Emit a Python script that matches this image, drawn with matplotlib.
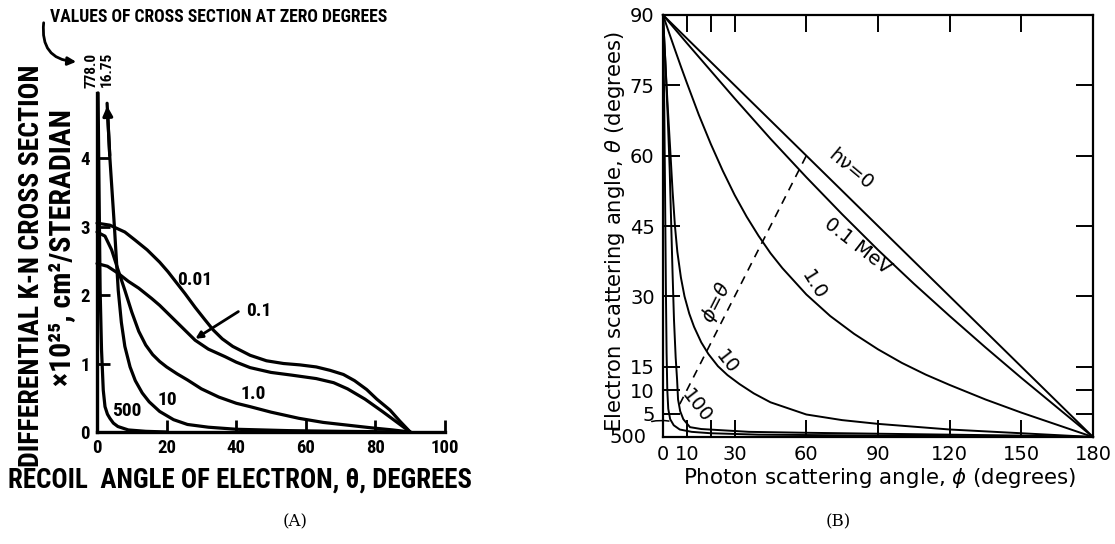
import matplotlib
matplotlib.use("Agg")
import matplotlib.pyplot as plt
from matplotlib import font_manager
from matplotlib.patches import FancyArrowPatch

W, H = 1115, 544

# ---------------- Panel A : differential K-N cross section ----------------
a_angle_001 = [0, 3.7, 8, 11, 14.4, 18, 20.4, 23, 25.3, 28.2, 31, 33.4, 36, 39, 44, 48.7, 53.6, 58.3, 63, 67, 70.8, 74, 77.5, 80.4, 84.2, 87, 90]
a_sigma_001 = [3.05, 3.02, 2.92, 2.8, 2.66, 2.48, 2.34, 2.17, 2.02, 1.82, 1.64, 1.49, 1.36, 1.25, 1.12, 1.04, 1.0, 0.98, 0.95, 0.9, 0.84, 0.75, 0.62, 0.48, 0.32, 0.16, 0]

a_angle_01 = [0, 3, 6, 9, 12, 15.7, 18, 21.4, 25, 28.2, 32, 36.8, 40, 44, 50, 56, 63, 68, 72, 77, 82, 86, 90]
a_sigma_01 = [2.46, 2.42, 2.32, 2.2, 2.1, 1.95, 1.85, 1.68, 1.5, 1.34, 1.21, 1.1, 1.02, 0.94, 0.87, 0.83, 0.78, 0.72, 0.63, 0.48, 0.3, 0.15, 0]

a_angle_1 = [0, 2.3, 4.2, 6.1, 8, 10, 12, 14, 16, 18, 20, 23, 26, 30, 35, 40, 44, 50, 58, 65, 72, 79, 85, 90]
a_sigma_1 = [2.92, 2.86, 2.66, 2.36, 2.07, 1.75, 1.47, 1.27, 1.13, 1.03, 0.95, 0.85, 0.76, 0.63, 0.51, 0.42, 0.37, 0.29, 0.2, 0.14, 0.1, 0.06, 0.03, 0]

a_angle_10 = [2.9, 3.7, 5.0, 6.1, 7.0, 8.0, 9.5, 11, 13, 15, 18, 22, 26, 32, 40, 55, 70, 90]
a_sigma_10 = [4.8, 4.0, 3.0, 2.07, 1.6, 1.25, 0.95, 0.75, 0.57, 0.44, 0.3, 0.18, 0.11, 0.07, 0.04, 0.02, 0.01, 0]

a_angle_500 = [0.3, 0.6, 0.9, 1.3, 1.8, 2.3, 3.0, 3.7, 4.7, 6, 9, 14, 20]
a_sigma_500 = [4.95, 3.5, 2.07, 1.2, 0.61, 0.37, 0.26, 0.2, 0.13, 0.08, 0.03, 0.01, 0]

a_xticks = [0, 20, 40, 60, 80, 100]
a_yticks = [0, 1, 2, 3, 4]
a_zero_values = ["778.0", "16.75"]

# ---------------- Panel B : electron vs photon scattering angle ----------------
b_phi_0 = [0, 60, 120, 180]
b_theta_0 = [90, 60, 30, 0]

b_phi_01 = [0, 10, 20, 30, 45, 60, 75, 90, 105, 120, 135, 150, 165, 180]
b_theta_01 = [90, 84.0, 78.1, 72.2, 63.6, 55.4, 47.5, 39.9, 32.7, 25.8, 19.1, 12.6, 6.3, 0]

b_phi_1 = [0, 2, 5, 7.5, 10, 15, 20, 25, 30, 35, 40, 45, 50, 60, 70, 80, 90, 100, 110, 120, 135, 150, 165, 180]
b_theta_1 = [90, 87.0, 82.6, 79.0, 75.5, 68.7, 62.5, 56.8, 51.6, 47.0, 42.9, 39.2, 36.0, 30.4, 25.8, 22.0, 18.7, 15.8, 13.3, 11.1, 8.0, 5.2, 2.6, 0]

b_phi_10 = [0, 0.5, 1, 1.5, 2, 3, 4, 5, 6, 7.5, 9, 11, 13, 16, 19, 23, 27, 32, 38, 45, 60, 75, 90, 120, 150, 180]
b_theta_10 = [90, 84.9, 79.8, 74.9, 70.2, 61.5, 52.5, 45.0, 39.5, 34.0, 30.0, 26.3, 23.5, 20.2, 17.7, 15.1, 13.2, 11.3, 9.3, 7.4, 4.8, 3.6, 2.8, 1.6, 0.8, 0]

b_phi_100 = [0, 1.0, 2.0, 2.8, 3.4, 4.0, 4.6, 5.3, 5.9, 6.3, 7.2, 8.5, 11.3, 16, 22.6, 36, 60, 90, 120, 150, 180]
b_theta_100 = [90, 80, 68, 57, 46, 35, 25, 17, 12.2, 8, 5.5, 3.8, 2.1, 1.7, 1.5, 1.1, 0.9, 0.7, 0.5, 0.3, 0]

b_phi_500 = [0, 0.5, 0.9, 1.2, 1.5, 1.8, 2.2, 3, 4.5, 7, 12, 20, 40, 90, 180]
b_theta_500 = [90, 72, 50, 32, 18, 10, 6, 3.8, 2.5, 1.6, 1.1, 0.8, 0.5, 0.3, 0]

b_diag_phi = [7, 60]
b_diag_theta = [7, 60]

b_xticks = [0, 10, 20, 30, 60, 90, 120, 150, 180]
b_xticklabels = ["0", "10", "", "30", "60", "90", "120", "150", "180"]
b_yticks = [0, 5, 10, 15, 30, 45, 60, 75, 90]
b_yticklabels = ["", "5", "10", "15", "30", "45", "60", "75", "90"]

# ---------------- fonts ----------------
entries = font_manager.fontManager.ttflist
names = {f.name for f in entries}
BOLD = None
for cand in ("Liberation Sans Narrow", "DejaVu Sans Condensed", "Roboto Condensed", "Open Sans Condensed"):
    if cand in names:
        BOLD = [cand, "DejaVu Sans"]
        break
if BOLD is None:
    BOLD = ["Roboto", "DejaVu Sans"] if "Roboto" in names else ["DejaVu Sans"]

fig = plt.figure(figsize=(W / 100, H / 100), dpi=100)
renderer = fig.canvas.get_renderer()


def fx(x):
    return x / W


def fy(y):
    return 1 - y / H


def fit(t, target, vertical=False):
    bb = t.get_window_extent(renderer=renderer)
    cur = bb.height if vertical else bb.width
    t.set_fontsize(t.get_fontsize() * target / cur)
    return t


# ================= Panel A =================
axA = fig.add_axes([fx(97), fy(432), fx(445) - fx(97), fy(93) - fy(432)])
axA.set_xlim(0, 100)
axA.set_ylim(0, 4.95)
for s in ("top", "right"):
    axA.spines[s].set_visible(False)
for s in ("left", "bottom"):
    axA.spines[s].set_linewidth(2.4)
axA.set_xticks(a_xticks)
axA.set_yticks(a_yticks)
axA.tick_params(direction="in", length=9, width=2, pad=5, labelsize=13.5)
for lbl in axA.get_xticklabels() + axA.get_yticklabels():
    lbl.set_fontweight("bold")
    lbl.set_family(BOLD)

lwA = 2.3
for th, sg in ((a_angle_001, a_sigma_001), (a_angle_01, a_sigma_01),
               (a_angle_1, a_sigma_1), (a_angle_10, a_sigma_10),
               (a_angle_500, a_sigma_500)):
    axA.plot(th, sg, color="k", lw=lwA, solid_capstyle="round", solid_joinstyle="round", clip_on=False)

axA.annotate("", xy=(a_angle_10[0], a_sigma_10[0]), xytext=(a_angle_10[1], a_sigma_10[1]),
             arrowprops=dict(arrowstyle="-|>", color="k", lw=lwA, mutation_scale=14),
             annotation_clip=False)

tkw = dict(fontweight="bold", family=BOLD, ha="center", va="center")
axA.text(28.2, 2.22, "0.01", fontsize=14, **tkw)
axA.text(46.5, 1.77, "0.1", fontsize=14, **tkw)
axA.text(44.8, 0.55, "1.0", fontsize=14, **tkw)
axA.text(20.1, 0.46, "10", fontsize=14, **tkw)
axA.text(8.5, 0.31, "500", fontsize=14, **tkw)
axA.annotate("", xy=(27.6, 1.34), xytext=(41.3, 1.78),
             arrowprops=dict(arrowstyle="-|>", color="k", lw=2, mutation_scale=10))

fig.text(fx(92), fy(70), a_zero_values[0], rotation=90, fontsize=11, **tkw)
fig.text(fx(107), fy(69), a_zero_values[1], rotation=90, fontsize=11, **tkw)
fit(fig.text(fx(50), fy(17), "VALUES OF CROSS SECTION AT ZERO DEGREES", fontsize=12,
             fontweight="bold", family=BOLD, ha="left", va="center"), 338)
fig.add_artist(FancyArrowPatch((fx(44), fy(20)), (fx(79), fy(62)), transform=fig.transFigure,
                               connectionstyle="arc3,rad=0.55", arrowstyle="-|>",
                               mutation_scale=12, lw=2, color="k"))

fit(fig.text(fx(32), fy(266), "DIFFERENTIAL K-N CROSS SECTION", rotation=90, fontsize=16, **tkw), 403, True)
fit(fig.text(fx(62), fy(248), "×10²⁵, cm²/STERADIAN", rotation=90, fontsize=16, **tkw), 277, True)
fit(fig.text(fx(240), fy(480), "RECOIL  ANGLE OF ELECTRON, θ, DEGREES", fontsize=16, **tkw), 464)

# ================= Panel B =================
axB = fig.add_axes([fx(663), fy(437), fx(1093) - fx(663), fy(15) - fy(437)])
axB.set_xlim(0, 180)
axB.set_ylim(0, 90)
for s in axB.spines.values():
    s.set_linewidth(1.6)
axB.set_xticks(b_xticks)
axB.set_xticklabels(b_xticklabels)
axB.set_yticks(b_yticks)
axB.set_yticklabels(b_yticklabels)
axB.tick_params(direction="in", length=12, width=1.4, top=True, right=True,
                labelsize=14, pad=6)

lwB = 1.4
for ph, th in ((b_phi_0, b_theta_0), (b_phi_01, b_theta_01), (b_phi_1, b_theta_1),
               (b_phi_10, b_theta_10), (b_phi_100, b_theta_100), (b_phi_500, b_theta_500)):
    axB.plot(ph, th, color="k", lw=lwB, clip_on=False, solid_joinstyle="round")
axB.plot(b_diag_phi, b_diag_theta, color="k", lw=1.2, ls=(0, (5, 4)))

bkw = dict(ha="center", va="center", fontsize=14)
axB.text(78.5, 57.0, "hν=0", rotation=-40, **bkw)
axB.text(81.5, 40.8, "0.1 MeV", rotation=-38, **bkw)
axB.text(63.0, 32.4, "1.0", rotation=-58, **bkw)
axB.text(26.8, 16.0, "10", rotation=-52, **bkw)
axB.text(14.2, 6.6, "100", rotation=-52, **bkw)
axB.text(22.2, 28.6, r"$\phi$=$\theta$", rotation=63, **bkw)
axB.annotate("500", xy=(2.5, 3.4), xytext=(-14.6, -0.2), ha="center", va="center",
             fontsize=14, annotation_clip=False,
             arrowprops=dict(arrowstyle="-", color="k", lw=1.1, shrinkA=8, shrinkB=0,
                             connectionstyle="arc3,rad=-0.3"))

fit(fig.text(fx(880), fy(478), r"Photon scattering angle, $\phi$ (degrees)", ha="center", va="center",
             fontsize=14), 394)
fit(fig.text(fx(615), fy(232), r"Electron scattering angle, $\theta$ (degrees)", ha="center", va="center",
             rotation=90, fontsize=14), 403, True)

fig.text(fx(295), fy(522), "(A)", ha="center", va="center", fontsize=12, family="DejaVu Serif")
fig.text(fx(838), fy(522), "(B)", ha="center", va="center", fontsize=12, family="DejaVu Serif")

fig.savefig("out.png", dpi=100)
